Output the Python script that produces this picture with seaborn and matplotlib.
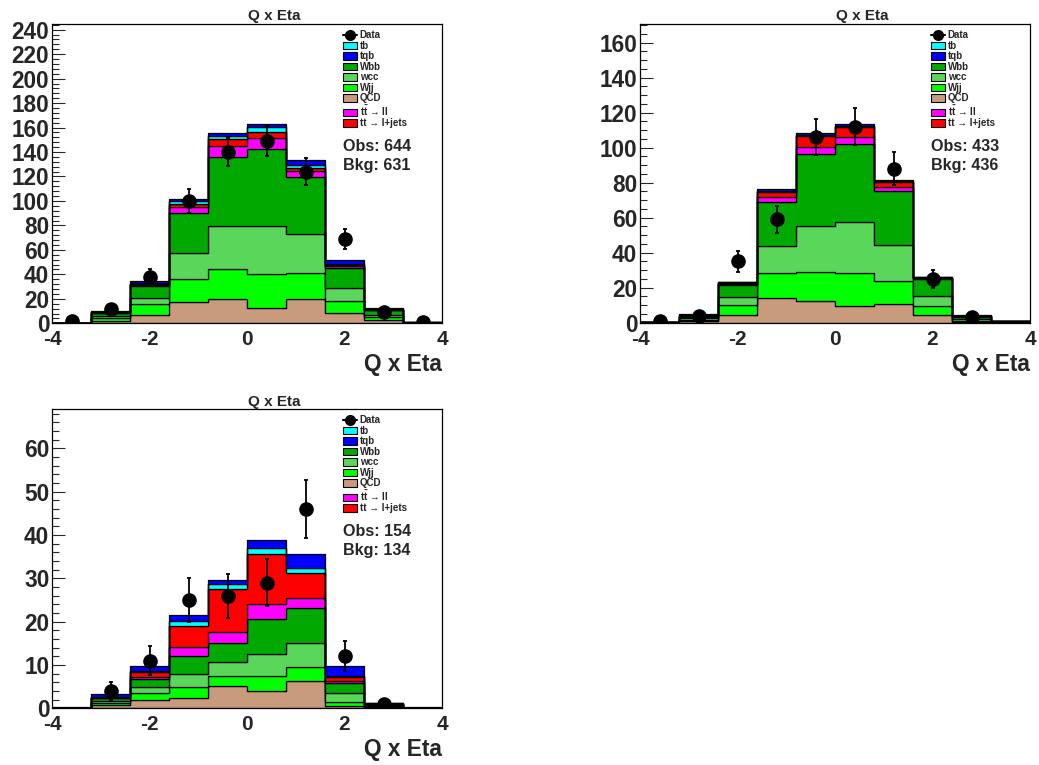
import numpy as np
import pandas as pd
import matplotlib
matplotlib.use("Agg")
import matplotlib.pyplot as plt
import seaborn as sns
from matplotlib.lines import Line2D
from matplotlib.patches import Patch
from matplotlib.ticker import MultipleLocator

# --- binning (Q x Eta) ---
BIN_EDGES = [-4.0, -3.2, -2.4, -1.6, -0.8, 0.0, 0.8, 1.6, 2.4, 3.2, 4.0]
BIN_CENTERS = [-3.6, -2.8, -2.0, -1.2, -0.4, 0.4, 1.2, 2.0, 2.8, 3.6]

# --- panel 1 (Obs 644 / Bkg 631) ---
QCD_1 = [0.1, 1.5, 6.8, 17.2, 19.6, 12.5, 19.9, 8.2, 2.7, 0.2]
WJJ_1 = [0.1, 2.5, 9.0, 19.0, 24.6, 27.5, 21.5, 9.8, 2.2, 0.2]
WCC_1 = [0.1, 1.8, 5.1, 21.0, 35.6, 39.8, 31.4, 10.6, 1.9, 0.1]
WBB_1 = [0.2, 2.5, 9.9, 32.7, 56.4, 62.7, 46.8, 16.9, 4.1, 0.1]
TTLL_1 = [0.0, 0.3, 0.8, 5.4, 8.8, 8.8, 4.9, 1.0, 0.3, 0.05]
TTLJ_1 = [0.05, 0.3, 0.9, 2.5, 5.4, 5.1, 2.2, 1.0, 0.3, 0.05]
TB_1 = [0.05, 0.3, 0.5, 2.2, 3.0, 3.9, 2.7, 0.7, 0.3, 0.05]
TQB_1 = [0.0, 0.6, 1.6, 1.6, 2.0, 2.7, 4.1, 3.6, 0.5, 0.05]
DATA_1 = [2, 12, 38, 100, 140, 149, 124, 69, 9, 1]
ERR_1 = [1.4, 3.5, 6.2, 10.0, 11.8, 12.2, 11.1, 8.3, 3.0, 1.0]

# --- panel 2 (Obs 433 / Bkg 436) ---
QCD_2 = [0.1, 0.8, 4.2, 14.3, 12.4, 9.7, 10.5, 4.2, 0.6, 0.2]
WJJ_2 = [0.1, 0.9, 5.9, 13.9, 16.7, 18.9, 13.3, 5.3, 0.5, 0.2]
WCC_2 = [0.1, 0.7, 4.4, 15.8, 26.3, 29.1, 20.6, 5.9, 1.0, 0.2]
WBB_2 = [0.2, 1.1, 7.0, 24.8, 40.8, 44.2, 30.9, 9.6, 1.3, 0.2]
TTLL_2 = [0.0, 0.2, 0.5, 2.9, 4.4, 4.4, 2.4, 0.4, 0.2, 0.05]
TTLJ_2 = [0.05, 0.3, 0.8, 3.2, 6.3, 5.7, 2.5, 0.4, 0.3, 0.05]
TB_2 = [0.05, 0.3, 0.3, 0.6, 0.6, 0.6, 0.6, 0.2, 0.2, 0.05]
TQB_2 = [0.0, 0.5, 0.3, 0.7, 0.7, 0.9, 0.7, 0.3, 0.3, 0.05]
DATA_2 = [1, 4, 35, 59, 106, 112, 88, 25, 3, 0]
ERR_2 = [1.0, 2.0, 5.9, 7.7, 10.3, 10.6, 9.4, 5.0, 1.7, 0.0]

# --- panel 3 (Obs 154 / Bkg 134) ---
QCD_3 = [0.05, 0.7, 1.9, 2.4, 5.2, 4.0, 6.4, 0.5, 0.3, 0.05]
WJJ_3 = [0.03, 0.5, 1.6, 2.6, 2.3, 3.5, 3.2, 1.0, 0.2, 0.03]
WCC_3 = [0.02, 0.4, 1.3, 2.9, 3.1, 5.0, 5.4, 2.0, 0.2, 0.02]
WBB_3 = [0.02, 0.7, 1.9, 4.2, 4.4, 8.0, 8.1, 2.4, 0.3, 0.02]
TTLL_3 = [0.02, 0.1, 0.6, 2.1, 2.7, 3.5, 2.3, 0.5, 0.05, 0.02]
TTLJ_3 = [0.02, 0.1, 1.0, 4.9, 9.8, 11.5, 5.8, 0.8, 0.05, 0.02]
TB_3 = [0.02, 0.1, 0.4, 1.0, 1.2, 1.6, 1.1, 0.3, 0.05, 0.02]
TQB_3 = [0.02, 0.6, 1.1, 1.4, 0.9, 1.7, 3.2, 2.3, 0.15, 0.02]
DATA_3 = [0, 4, 11, 25, 26, 29, 46, 12, 1, 0]
ERR_3 = [0.0, 2.0, 3.3, 5.0, 5.1, 5.4, 6.8, 3.5, 1.0, 0.0]

# legend order and colours
PROCS = ['tb', 'tqb', 'Wbb', 'wcc', 'Wjj', 'QCD', 'ttll', 'ttlj']
LABELS = ['tb', 'tqb', 'Wbb', 'wcc', 'Wjj', 'QCD',
          't$\\bar{\\rm t}$ \u2192 ll', 'tt \u2192 l+jets']
COLORS = {'tb': '#00FFFF', 'tqb': '#0000FF', 'Wbb': '#00A800', 'wcc': '#5AD65A',
          'Wjj': '#00FF00', 'QCD': '#C89B7D', 'ttll': '#FF00FF', 'ttlj': '#FF0000'}
# seaborn stacks the last hue level at the bottom
STACK_ORDER = ['tqb', 'tb', 'ttlj', 'ttll', 'Wbb', 'wcc', 'Wjj', 'QCD']

sns.set_theme(style="white")
plt.rcParams['font.family'] = ['Liberation Sans', 'DejaVu Sans']
plt.rcParams['font.weight'] = 'bold'
plt.rcParams['mathtext.fontset'] = 'custom'
plt.rcParams['mathtext.rm'] = 'Liberation Sans:bold'
plt.rcParams['mathtext.bf'] = 'Liberation Sans:bold'
plt.rcParams['mathtext.it'] = 'Liberation Sans:bold'

W, H = 1039, 765


def long_frame(parts):
    rows = []
    for proc, vals in parts.items():
        for c, v in zip(BIN_CENTERS, vals):
            rows.append({'x': c, 'w': v, 'proc': proc})
    return pd.DataFrame(rows)


def draw_panel(fig, rect, parts, data, err, ymax, minor, obs, bkg, title_x, title_y):
    ax = fig.add_axes(rect)
    df = long_frame(parts)
    sns.histplot(data=df, x='x', weights='w', hue='proc', bins=BIN_EDGES,
                 multiple='stack', element='step', fill=True, hue_order=STACK_ORDER,
                 palette=COLORS, alpha=1, edgecolor='black', linewidth=0.9,
                 legend=False, ax=ax)

    xs = [c for c, d in zip(BIN_CENTERS, data) if d > 0]
    ys = [d for d in data if d > 0]
    es = [e for e, d in zip(err, data) if d > 0]
    ax.errorbar(xs, ys, yerr=es, fmt='o', color='black', ms=9.5,
                elinewidth=1.3, capsize=1.5, capthick=1.3, zorder=5)

    ax.set_xlim(-4, 4)
    ax.set_ylim(0, ymax)
    ax.set_xlabel('')
    ax.set_ylabel('')
    ax.set_xticks([-4, -2, 0, 2, 4])
    ax.set_xticklabels(['-4', '-2', '0', '2', '4'])
    ax.yaxis.set_major_locator(MultipleLocator(10 if ymax < 100 else 20))
    ax.yaxis.set_minor_locator(MultipleLocator(minor))
    ax.tick_params(axis='x', length=0, labelsize=15, pad=5)
    ax.tick_params(axis='y', which='major', direction='in', length=9.6, width=0.8,
                   labelsize=16.3, pad=2, left=True)
    ax.tick_params(axis='y', which='minor', direction='in', length=5.3, width=0.8,
                   left=True)
    for s in ax.spines.values():
        s.set_color('black')
        s.set_linewidth(0.9)

    ax.text(1.0, -41.7 / 299, 'Q x Eta', transform=ax.transAxes,
            ha='right', va='center', fontsize=16.3, fontweight='bold')
    fig.text(title_x / W, 1 - title_y / H, 'Q x Eta', ha='center', va='center',
             fontsize=11, fontweight='bold')

    handles = [Line2D([0], [0], marker='o', color='black', markersize=7, linewidth=1.5)]
    handles += [Patch(facecolor=COLORS[p], edgecolor='black', linewidth=0.8) for p in PROCS]
    ax.legend(handles, ['Data'] + LABELS, loc='upper left', bbox_to_anchor=(0.745, 0.98),
              frameon=False, handlelength=1.45, handleheight=0.8,
              handletextpad=0.3, labelspacing=0.05, borderpad=0, borderaxespad=0,
              prop={'weight': 'bold', 'size': 7})

    ax.text(0.746, 0.591, f'Obs: {obs}', transform=ax.transAxes, ha='left', va='center',
            fontsize=11.6, fontweight='bold')
    ax.text(0.746, 0.527, f'Bkg: {bkg}', transform=ax.transAxes, ha='left', va='center',
            fontsize=11.6, fontweight='bold')
    return ax


fig = plt.figure(figsize=(W / 100, H / 100), dpi=100)

parts_1 = {'tqb': TQB_1, 'tb': TB_1, 'ttlj': TTLJ_1, 'ttll': TTLL_1,
           'Wbb': WBB_1, 'wcc': WCC_1, 'Wjj': WJJ_1, 'QCD': QCD_1}
parts_2 = {'tqb': TQB_2, 'tb': TB_2, 'ttlj': TTLJ_2, 'ttll': TTLL_2,
           'Wbb': WBB_2, 'wcc': WCC_2, 'Wjj': WJJ_2, 'QCD': QCD_2}
parts_3 = {'tqb': TQB_3, 'tb': TB_3, 'ttlj': TTLJ_3, 'ttll': TTLL_3,
           'Wbb': WBB_3, 'wcc': WCC_3, 'Wjj': WJJ_3, 'QCD': QCD_3}

draw_panel(fig, [52 / W, 1 - 323.3 / H, 390 / W, 299 / H], parts_1, DATA_1, ERR_1,
           244.4, 4, 644, 631, 274, 15.7)
draw_panel(fig, [640 / W, 1 - 322.7 / H, 390 / W, 298.4 / H], parts_2, DATA_2, ERR_2,
           170.5, 5, 433, 436, 862.7, 15.7)
draw_panel(fig, [52 / W, 1 - 708.3 / H, 390 / W, 299 / H], parts_3, DATA_3, ERR_3,
           69, 2, 154, 134, 274, 401.7)

fig.savefig('out.png', dpi=100)
